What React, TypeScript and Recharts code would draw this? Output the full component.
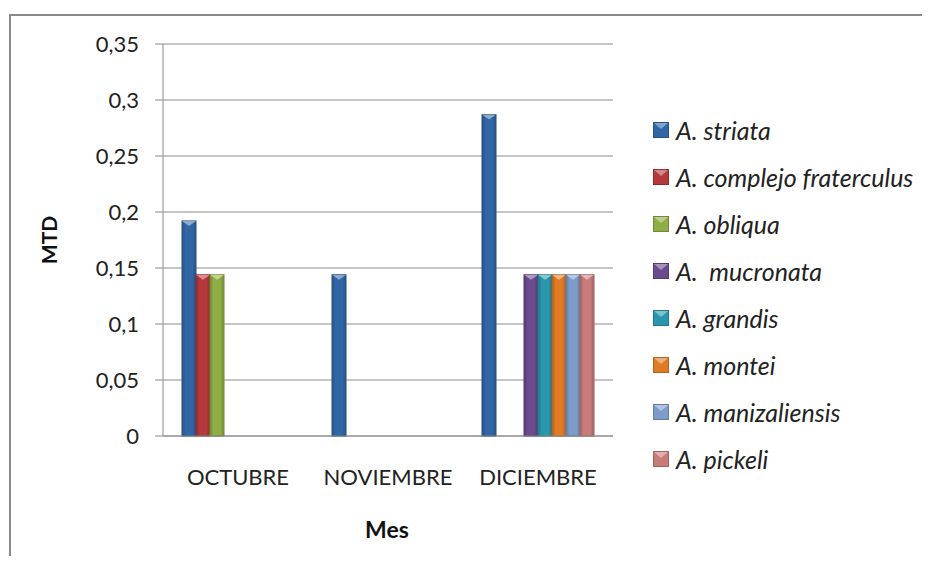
import React from 'react';
import { BarChart, Bar, XAxis, YAxis, CartesianGrid } from 'recharts';

const months = ['OCTUBRE', 'NOVIEMBRE', 'DICIEMBRE'];

const species = [
  'A. striata',
  'A. complejo fraterculus',
  'A. obliqua',
  'A.  mucronata',
  'A. grandis',
  'A. montei',
  'A. manizaliensis',
  'A. pickeli',
];

// MTD per month, null where the species was not caught
const striata = [0.192, 0.144, 0.287];
const complejo = [0.144, null, null];
const obliqua = [0.144, null, null];
const mucronata = [null, null, 0.144];
const grandis = [null, null, 0.144];
const montei = [null, null, 0.144];
const manizaliensis = [null, null, 0.144];
const pickeli = [null, null, 0.144];

const yTicks = [0, 0.05, 0.1, 0.15, 0.2, 0.25, 0.3, 0.35];

const colors = ['#3166a6', '#b5383a', '#8fad45', '#6b4a8e', '#2a97ad', '#e07b25', '#7e9ccb', '#c97b7a'];

const series = [striata, complejo, obliqua, mucronata, grandis, montei, manizaliensis, pickeli];

const data = months.map((m, i) => {
  const row: any = { mes: m };
  series.forEach((s, k) => {
    row['s' + k] = s[i];
  });
  return row;
});

const FONT = 'Lato, "Open Sans", sans-serif';

function mix(hex: string, other: string, t: number) {
  const a = parseInt(hex.slice(1), 16);
  const b = parseInt(other.slice(1), 16);
  const ch = (v: number, sh: number) => (v >> sh) & 255;
  const c = [16, 8, 0].map((sh) => Math.round(ch(a, sh) * (1 - t) + ch(b, sh) * t));
  return '#' + c.map((v) => v.toString(16).padStart(2, '0')).join('');
}

function BevelBar(props: any) {
  const { x, y, width, height, fill } = props;
  if (!height || height <= 0) return null;
  const dark = mix(fill, '#000000', 0.25);
  const light = mix(fill, '#ffffff', 0.45);
  return (
    <g>
      <rect x={x} y={y} width={width} height={height} fill={fill} stroke={dark} strokeWidth={1} />
      <rect x={x + 0.5} y={y} width={2} height={height} fill={dark} opacity={0.5} />
      <rect x={x + width - 2.5} y={y} width={2} height={height} fill={dark} opacity={0.5} />
      <polygon points={`${x},${y} ${x + width},${y} ${x + width / 2},${y + 5}`} fill={light} />
    </g>
  );
}

function LegendSwatch({ color }: { color: string }) {
  const light = mix(color, '#ffffff', 0.4);
  const dark = mix(color, '#000000', 0.2);
  return (
    <svg width={16} height={16} style={{ display: 'block' }}>
      <rect x={0.5} y={0.5} width={15} height={15} fill={color} stroke={dark} />
      <polygon points="1,1 15,1 8,7" fill={light} />
    </svg>
  );
}

export default function App() {
  return (
    <div
      style={{
        position: 'relative', width: 922, height: 556, marginBottom: -8,
        overflow: 'hidden', fontFamily: FONT,
      }}
    >
      <div
        style={{
          position: 'absolute', left: 1, top: 6, width: 920, height: 620,
          border: '2px solid #8a8a8a', boxSizing: 'border-box',
        }}
      />
      <div style={{ position: 'absolute', left: 0, top: 0 }}>
        <BarChart
          width={922}
          height={556}
          data={data}
          barCategoryGap={19}
          barGap={0}
          margin={{ top: 36, right: 317, left: 0, bottom: 0 }}
        >
          <CartesianGrid vertical={false} stroke="#8c8c8c" strokeWidth={1} />
          <XAxis
            dataKey="mes"
            height={128}
            tickLine={false}
            tickSize={0}
            tickMargin={33}
            axisLine={{ stroke: '#8c8c8c' }}
            tick={{ fill: '#222', fontSize: 22, fontFamily: FONT }}
          />
          <YAxis
            width={155}
            domain={[0, 0.35]}
            ticks={yTicks}
            interval={0}
            tickSize={8}
            tickMargin={16}
            tickFormatter={(v: number) => String(v).replace('.', ',')}
            axisLine={{ stroke: '#8c8c8c' }}
            tickLine={{ stroke: '#8c8c8c' }}
            tick={{ fill: '#222', fontSize: 22, fontFamily: FONT }}
          />
          {species.map((name, k) => (
            <Bar
              key={name}
              dataKey={'s' + k}
              name={name}
              fill={colors[k]}
              shape={<BevelBar />}
              isAnimationActive={false}
            />
          ))}
        </BarChart>
      </div>
      <div
        style={{
          position: 'absolute', left: 40, top: 232, transform: 'translate(-50%, -50%) rotate(-90deg)',
          fontWeight: 'bold', fontSize: 21, color: '#111', whiteSpace: 'nowrap',
        }}
      >
        MTD
      </div>
      <div
        style={{
          position: 'absolute', left: 379, top: 521, transform: 'translate(-50%, -50%)',
          fontWeight: 'bold', fontSize: 23, color: '#111', whiteSpace: 'nowrap',
        }}
      >
        Mes
      </div>
      {species.map((name, k) => (
        <div
          key={name}
          style={{
            position: 'absolute', left: 645, top: 122 + k * 47 - 16, height: 32,
            display: 'flex', alignItems: 'center',
          }}
        >
          <LegendSwatch color={colors[k]} />
          <span style={{ marginLeft: 7, fontStyle: 'italic', fontSize: 25, color: '#222', whiteSpace: 'pre' }}>
            {name}
          </span>
        </div>
      ))}
    </div>
  );
}
